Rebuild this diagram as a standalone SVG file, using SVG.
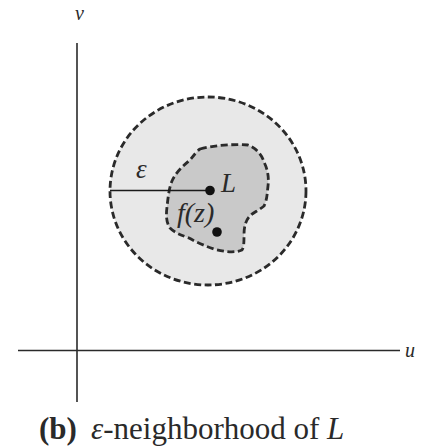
<svg xmlns="http://www.w3.org/2000/svg" width="425" height="447" viewBox="0 0 425 447">
<style>
.ax{stroke:#2a2a2a;stroke-width:1.6;fill:none}
.dash{stroke:#2a2a2a;stroke-width:2.8;stroke-dasharray:7 3.5}
.it{font-family:"Liberation Serif",serif;font-style:italic;fill:#2a2a2a}
.cap{font-family:"Liberation Serif",serif;fill:#2a2a2a;font-size:31px}
</style>
<rect width="425" height="447" fill="#fff"/>
<g id="axes">
<line class="ax" x1="77" y1="43" x2="77" y2="402"/>
<line class="ax" x1="18" y1="350.5" x2="400" y2="350.5"/>
<text class="it" x="75" y="20" font-size="20">v</text>
<text class="it" x="405" y="357" font-size="20">u</text>
</g>
<g id="neighborhood">
<ellipse cx="208" cy="191" rx="98" ry="94" fill="#e8e8e8" class="dash"/>
</g>
<g id="image-region">
<path class="dash" fill="#c9c9c9" d="M200,149 C215,145 235,144 248,145 C256,148 262,155 264,162 C268,170 269,178 268,186 C267,195 267,200 264,206 C258,211 252,213 249,217 C245,222 244,228 244,236 C244,242 244,247 242,250 C235,253 225,252 214,249 C205,246 196,242 189,238 C181,235 175,233 170,228 C166,222 166,215 167,207 C168,198 169,188 172,181 C176,172 183,166 190,160 C194,155 197,151 200,149 Z"/>
</g>
<g id="radius">
<line x1="110" y1="190.5" x2="210" y2="190.5" stroke="#1a1a1a" stroke-width="1.6"/>
<text class="it" x="136" y="178" font-size="27">ε</text>
</g>
<g id="L">
<circle cx="210" cy="190.5" r="4.8" fill="#111"/>
<text class="it" x="221" y="192" font-size="27">L</text>
</g>
<g id="fz">
<circle cx="217" cy="232" r="4.8" fill="#111"/>
<text class="it" x="177" y="222" font-size="28">f(z)</text>
</g>
<g id="caption">
<text class="cap" x="39" y="439"><tspan font-weight="bold">(b)</tspan><tspan x="91" font-style="italic">ε</tspan><tspan>-neighborhood of </tspan><tspan font-style="italic">L</tspan></text>
</g>
</svg>
